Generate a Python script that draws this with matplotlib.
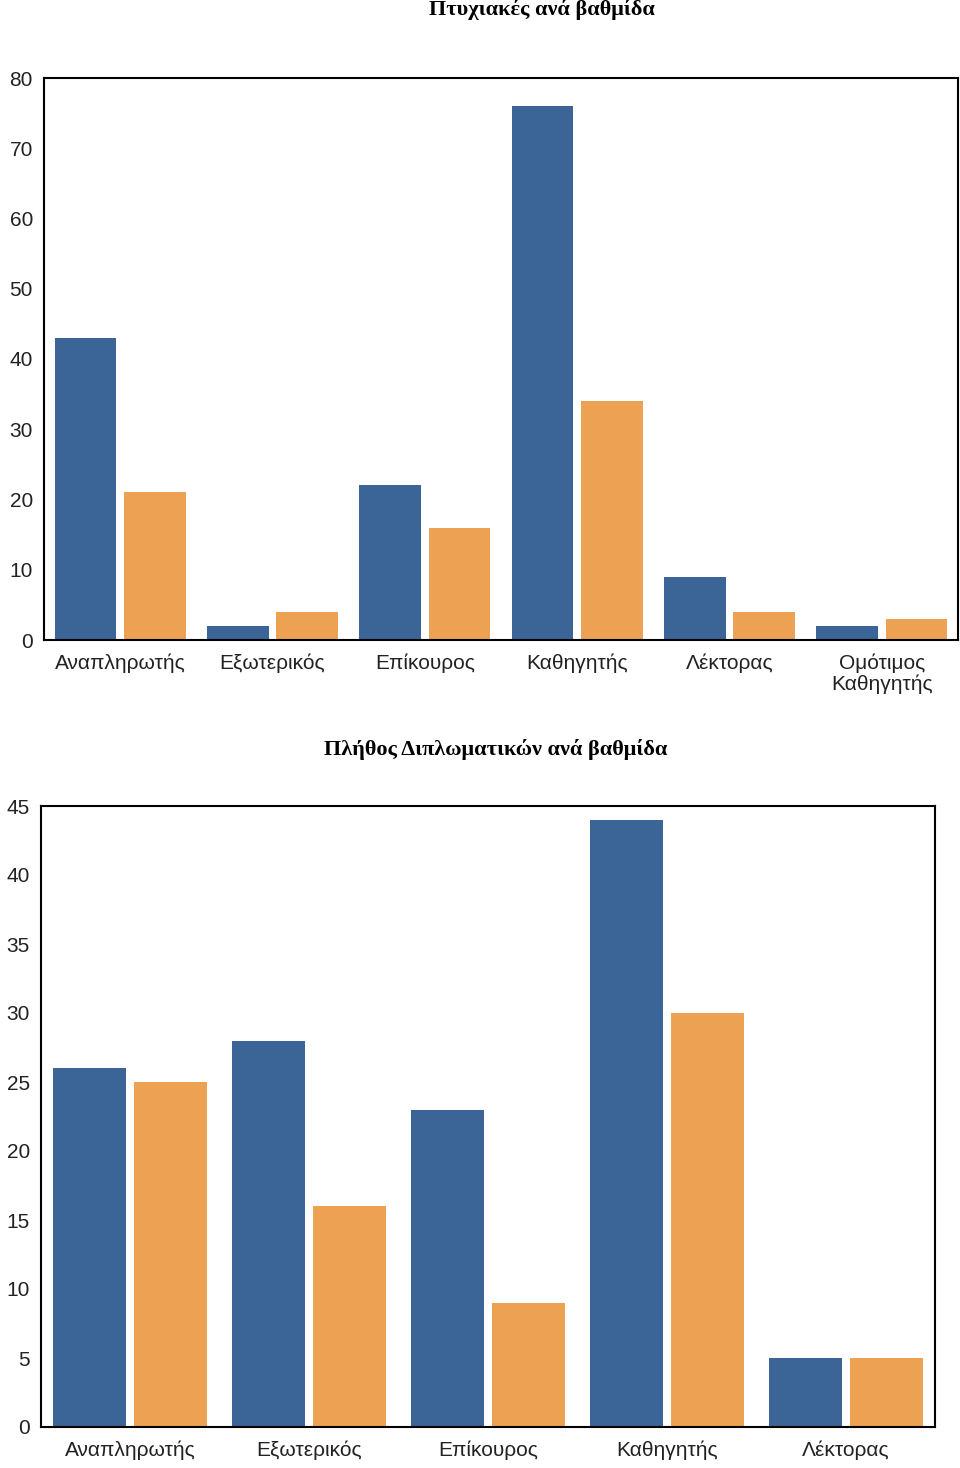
import matplotlib.pyplot as plt
import numpy as np

# Πτυχιακές ανά βαθμίδα
cats1 = ["Αναπληρωτής", "Εξωτερικός", "Επίκουρος", "Καθηγητής", "Λέκτορας", "Ομότιμος\nΚαθηγητής"]
blue1 = [43, 2, 22, 76, 9, 2]
orange1 = [21, 4, 16, 34, 4, 3]

# Πλήθος Διπλωματικών ανά βαθμίδα
cats2 = ["Αναπληρωτής", "Εξωτερικός", "Επίκουρος", "Καθηγητής", "Λέκτορας"]
blue2 = [26, 28, 23, 44, 5]
orange2 = [25, 16, 9, 30, 5]

BLUE = "#3b6597"
ORANGE = "#eda253"

fig = plt.figure(figsize=(9.6, 14.68), dpi=100)


def draw(ax, cats, b, o, ymax, step, width, gap):
    x = np.arange(len(cats))
    ax.bar(x - (width + gap) / 2, b, width=width, color=BLUE)
    ax.bar(x + (width + gap) / 2, o, width=width, color=ORANGE)
    ax.set_xlim(-0.5, len(cats) - 0.5)
    ax.set_ylim(0, ymax)
    ax.set_yticks(np.arange(0, ymax + 1, step))
    ax.set_xticks(x)
    ax.set_xticklabels(cats, fontsize=15, family="Liberation Sans", color="#222222", linespacing=1.1)
    for lbl in ax.get_yticklabels():
        lbl.set_fontsize(15)
        lbl.set_family("Liberation Sans")
        lbl.set_color("#222222")
    ax.tick_params(length=0, pad=8)
    ax.tick_params(axis="x", pad=10)
    for s in ax.spines.values():
        s.set_linewidth(1.5)
        s.set_color("black")


ax1 = fig.add_axes([44 / 960, 828 / 1468, 914 / 960, 562 / 1468])
draw(ax1, cats1, blue1, orange1, 80, 10, 0.403, 0.052)

ax2 = fig.add_axes([41 / 960, 41 / 1468, 894 / 960, 621 / 1468])
draw(ax2, cats2, blue2, orange2, 45, 5, 0.408, 0.045)

fig.text(542 / 960, 1 - 10 / 1468, "Πτυχιακές ανά βαθμίδα", ha="center", va="center",
         fontsize=16, family="Liberation Serif", fontweight="bold")
fig.text(496 / 960, 1 - 749 / 1468, "Πλήθος Διπλωματικών ανά βαθμίδα", ha="center", va="center",
         fontsize=16, family="Liberation Serif", fontweight="bold")

fig.savefig("out.png", dpi=100)
